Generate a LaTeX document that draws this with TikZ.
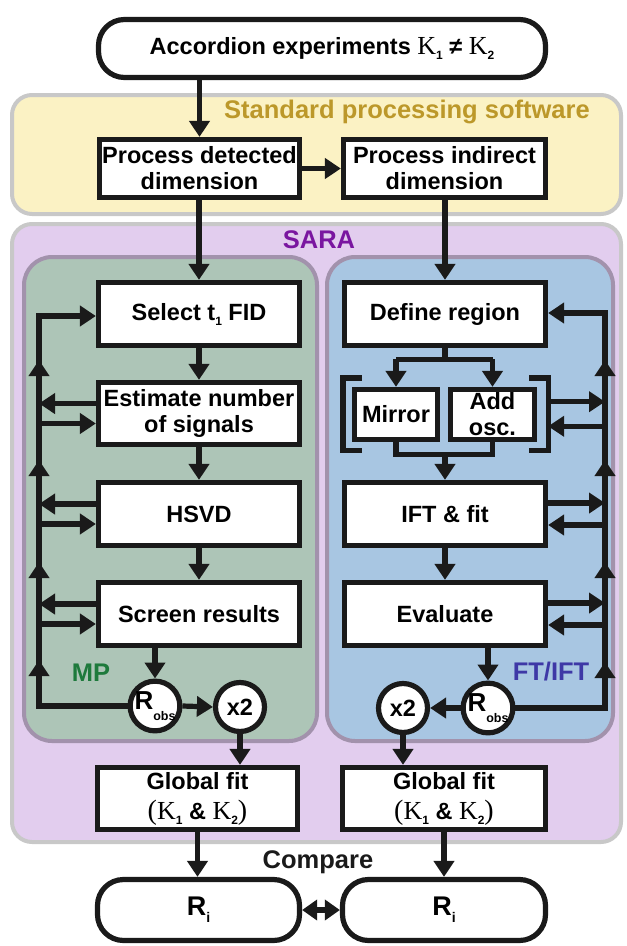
\documentclass[tikz,border=0pt]{standalone}
\usepackage{fontspec}
\setmainfont{Liberation Sans}
\newfontfamily\kfont{Liberation Serif}
\usetikzlibrary{arrows.meta,calc}
\definecolor{lk}{RGB}{26,26,26}
\definecolor{ybg}{RGB}{251,242,196}
\definecolor{ytx}{RGB}{188,152,42}
\definecolor{gbd}{RGB}{200,200,200}
\definecolor{pbg}{RGB}{226,205,238}
\definecolor{ptx}{RGB}{122,22,160}
\definecolor{gbg}{RGB}{173,197,183}
\definecolor{bbg}{RGB}{168,198,226}
\definecolor{mbd}{RGB}{162,146,172}
\definecolor{mptx}{RGB}{30,122,60}
\definecolor{fttx}{RGB}{62,56,166}
\newcommand\sbx[1]{\raisebox{-0.4ex}{\fontsize{12}{12}\selectfont #1}}
\newcommand\kap{{\kfont\mdseries\fontsize{26}{26}\selectfont Κ}}
\newcommand\lpar{{\kfont\mdseries\fontsize{28}{26}\selectfont(}}
\newcommand\rpar{{\kfont\mdseries\fontsize{28}{26}\selectfont)}}
\begin{document}
\begin{tikzpicture}[x=1pt,y=-1pt,
  box/.style={draw=lk, line width=5.2pt, fill=white, inner sep=0pt, align=center,
    font=\fontsize{23.5}{26}\selectfont\bfseries},
  rbox/.style={box, rounded corners=26pt},
  circ/.style={box, circle, minimum size=49pt},
  conn/.style={draw=lk, line width=5.2pt},
  arr/.style={conn, -{Triangle[length=16pt,width=20pt]}},
  darr/.style={conn, {Triangle[length=15pt,width=20pt]}-{Triangle[length=15pt,width=20pt]}},
  lbl/.style={font=\fontsize{25.5}{26}\selectfont\bfseries, inner sep=0pt},
  panel/.style={line width=4pt, rounded corners=20pt},
  sub/.style={line width=4pt, rounded corners=28pt, draw=mbd}]
\useasboundingbox (0,0) rectangle (627,946);
% panels
\draw[panel, draw=gbd, fill=ybg] (12,95) rectangle (621,214);
\draw[panel, draw=gbd, fill=pbg] (12,224) rectangle (621,842);
\draw[sub, fill=gbg] (24,257) rectangle (317,741);
\draw[sub, fill=bbg] (327,257) rectangle (613,741);
% labels
\node[lbl, text=ytx] (lstd) at (407,112) {Standard processing software};
\node[lbl, text=ptx] (lsara) at (319,240) {SARA};
\node[lbl, text=mptx] (lmp) at (91,673) {MP};
\node[lbl, text=fttx] (lft) at (551,672) {FT/IFT};
\node[lbl, text=lk] (lcmp) at (318,862) {Compare};
% nodes
\node[rbox, minimum width=447pt, minimum height=58pt] (top) at (322,48.5) {Accordion experiments \kap\sbx{1} ≠ \kap\sbx{2}};
\node[box, minimum width=200pt, minimum height=58pt] (pdd) at (199.5,168.5) {Process detected\\dimension};
\node[box, minimum width=202pt, minimum height=58pt] (pid) at (444.5,168.5) {Process indirect\\dimension};
\node[box, minimum width=201pt, minimum height=63pt] (sel) at (199,314) {Select t\sbx{1} FID};
\node[box, minimum width=201pt, minimum height=62pt] (est) at (199,413.5) {Estimate number\\of signals};
\node[box, minimum width=201pt, minimum height=63pt] (hsvd) at (199,514) {HSVD};
\node[box, minimum width=201pt, minimum height=63pt] (scr) at (199,614) {Screen results};
\node[box, minimum width=201pt, minimum height=63pt] (def) at (445,314) {Define region};
\node[box, minimum width=83pt, minimum height=50pt] (mir) at (396,414.5) {Mirror};
\node[box, minimum width=84pt, minimum height=50pt] (add) at (492.5,414.5) {Add\\osc.};
\node[box, minimum width=201pt, minimum height=63pt] (ift) at (445,514) {IFT \& fit};
\node[box, minimum width=201pt, minimum height=63pt] (eva) at (445,614) {Evaluate};
\node[circ] (robsL) at (155,706) {\fontsize{26}{26}\selectfont R\raisebox{-0.75ex}{\fontsize{12.5}{12}\selectfont obs}};
\node[circ] (x2L) at (240,707) {x2};
\node[circ] (robsR) at (488,708) {\fontsize{26}{26}\selectfont R\raisebox{-0.75ex}{\fontsize{12.5}{12}\selectfont obs}};
\node[circ] (x2R) at (403,708) {x2};
\node[box, minimum width=200pt, minimum height=62pt, font=\fontsize{23.5}{30}\selectfont\bfseries] (gfL) at (197.5,798.5) {Global fit\\\lpar\kap\sbx{1} \& \kap\sbx{2}\rpar};
\node[box, minimum width=203pt, minimum height=62pt, font=\fontsize{23.5}{30}\selectfont\bfseries] (gfR) at (444,798.5) {Global fit\\\lpar\kap\sbx{1} \& \kap\sbx{2}\rpar};
\node[rbox, minimum width=202pt, minimum height=61pt] (RiL) at (198.5,910) {\fontsize{27}{26}\selectfont R\raisebox{-0.5ex}{\fontsize{14}{14}\selectfont i}};
\node[rbox, minimum width=203pt, minimum height=61pt] (RiR) at (444,910) {\fontsize{27}{26}\selectfont R\raisebox{-0.5ex}{\fontsize{14}{14}\selectfont i}};
% main flow
\draw[arr] (top.south -| pdd.north) -- (pdd.north);
\draw[arr] (pdd.east) -- (pid.west);
\draw[arr] (sel.north |- pdd.south) -- (sel.north);
\draw[arr] (def.north |- pid.south) -- (def.north);
\draw[arr] (sel.south) -- (est.north);
\draw[arr] (est.south) -- (hsvd.north);
\draw[arr] (hsvd.south) -- (scr.north);
\draw[arr] (robsL.north |- scr.south) -- (robsL.north);
\draw[arr] (robsL.east) -- (x2L.west);
\draw[arr] (x2L.south) -- (x2L.south |- gfL.north);
\draw[arr] (gfL.south) -- (gfL.south |- RiL.north);
% right flow
\draw[conn] (def.south) -- ++(0,11) coordinate (sp);
\draw[conn] (sp -| mir.north) -- (sp -| add.north);
\draw[arr] (sp -| mir.north) -- (mir.north);
\draw[arr] (sp -| add.north) -- (add.north);
\coordinate (mg) at ($(mir.south)+(0,12)$);
\draw[conn] (mir.south) -- (mg) -- (mg -| add.south) -- (add.south);
\draw[arr] (mg -| def.south) -- (ift.north);
\draw[arr] (ift.south) -- (eva.north);
\draw[arr] (robsR.north |- eva.south) -- (robsR.north);
\draw[arr] (robsR.west) -- (x2R.east);
\draw[arr] (x2R.south) -- (x2R.south |- gfR.north);
\draw[arr] (gfR.south) -- (gfR.south |- RiR.north);
\draw[darr] (RiL.east) -- (RiR.west);
% brackets
\coordinate (bl1) at ($(mir.north west)+(-9,-9)$);
\coordinate (bl2) at ($(mir.south west)+(-9,8)$);
\coordinate (br1) at ($(add.north east)+(11,-9)$);
\coordinate (br2) at ($(add.south east)+(11,8)$);
\draw[conn] ($(bl1)+(19,0)$) -- (bl1) -- (bl2) -- ($(bl2)+(19,0)$);
\draw[conn] ($(br1)+(-19,0)$) -- (br1) -- (br2) -- ($(br2)+(-19,0)$);
% left feedback loop
\coordinate (Lb) at (39,706);
\coordinate (Lt) at ($(sel.west)+(-60,2)$);
\draw[arr] (robsL.west) -- (Lb |- robsL.west) -- (Lb |- Lt) -- (Lt -| sel.west);
\foreach \yy in {660,562,460,360}{
  \coordinate (lu) at (39,\yy);
  \draw[arr] ($(lu)+(0,25)$) -- (lu);
}
\foreach \b in {est,hsvd,scr}{
  \path ($(\b.west)+(0,-10)$) coordinate (\b o) ($(\b.west)+(0,10)$) coordinate (\b i);
  \draw[arr] (\b o) -- (\b o -| Lb);
  \draw[arr] (\b i -| Lb) -- (\b i);
}
% right feedback loop
\coordinate (Rb) at (605,708);
\coordinate (Rt) at ($(def.east)+(59,-1)$);
\draw[arr] (robsR.east) -- (Rb |- robsR.east) -- (Rb |- Rt) -- (Rt -| def.east);
\foreach \yy in {662,562,460,360}{
  \coordinate (ru) at (605,\yy);
  \draw[arr] ($(ru)+(0,25)$) -- (ru);
}
\path ($(br1)!0.33!(br2)$) coordinate (mo) ($(br1)!0.67!(br2)$) coordinate (mi);
\draw[arr] (mo) -- (mo -| Rb);
\draw[arr] (mi -| Rb) -- (mi);
\foreach \b in {ift,eva}{
  \path ($(\b.east)+(0,-11)$) coordinate (\b o) ($(\b.east)+(0,11)$) coordinate (\b i);
  \draw[arr] (\b o) -- (\b o -| Rb);
  \draw[arr] (\b i -| Rb) -- (\b i);
}
\end{tikzpicture}
\end{document}
